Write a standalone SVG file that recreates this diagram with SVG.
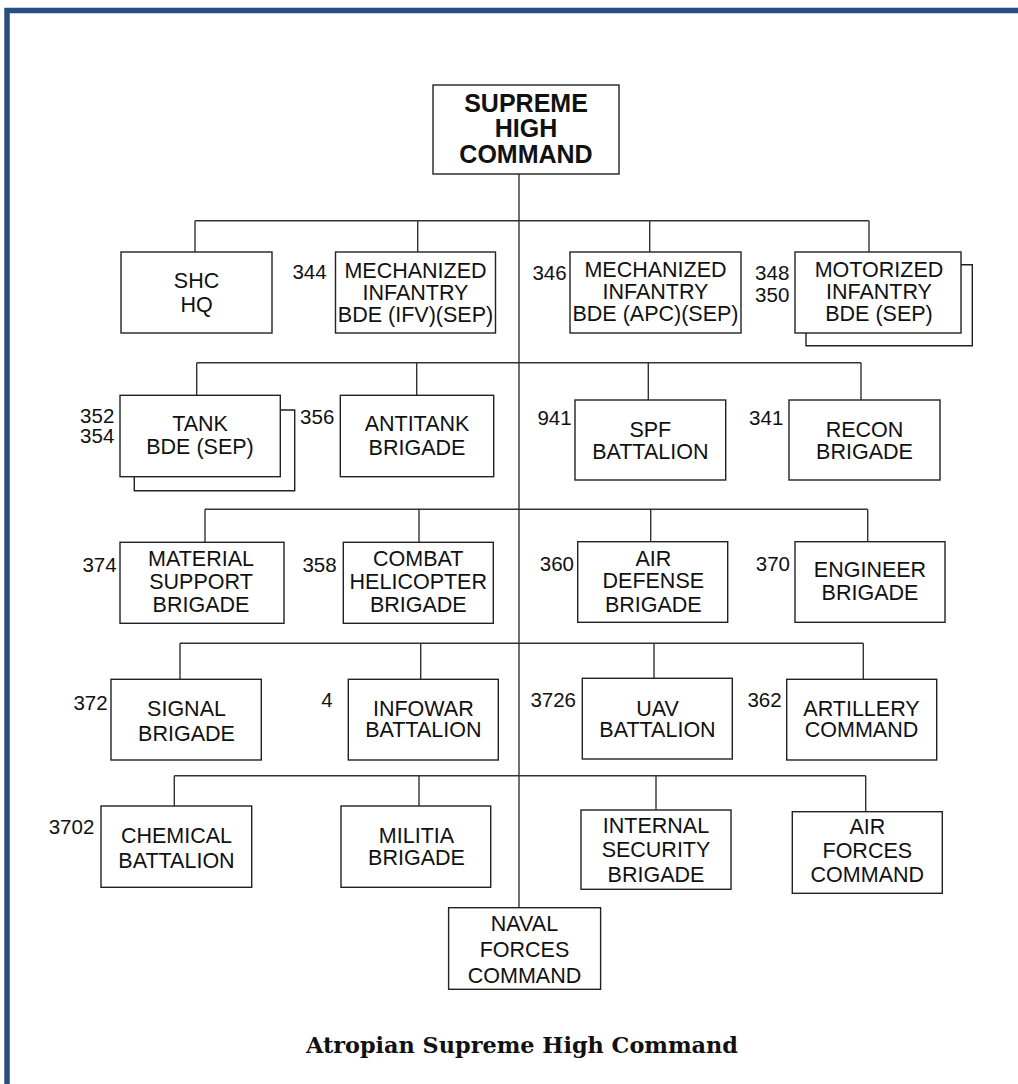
<svg xmlns="http://www.w3.org/2000/svg" width="1018" height="1084" viewBox="0 0 1018 1084">
<style>
.box{fill:#fff;stroke:#222;stroke-width:1.4}
.sh{fill:none;stroke:#222;stroke-width:1.4}
.conn{fill:none;stroke:#333;stroke-width:1.4}
text{font-family:"Liberation Sans",Arial,sans-serif;fill:#111}
.t{font-size:21.5px;text-anchor:middle}
.b{font-size:25px;font-weight:bold;text-anchor:middle}
.n{font-size:20.5px;text-anchor:end}
.title{font-family:"DejaVu Serif","Liberation Serif",serif;font-weight:bold;font-size:22px;text-anchor:middle}
</style>
<rect x="0" y="0" width="1018" height="1084" fill="#fff"/>
<rect x="7" y="10.5" width="1100" height="1200" fill="none" stroke="#2b4e80" stroke-width="5.5"/>

<g id="connectors">
<path class="conn" d="M519 174V907.7"/>
<path class="conn" d="M195 220.7H869M195 220.7V252M417.7 220.7V252M649.7 220.7V252M869 220.7V252"/>
<path class="conn" d="M196.7 362.7H861M196.7 362.7V395.3M416.7 362.7V395.3M648.3 362.7V400M861 362.7V400"/>
<path class="conn" d="M205 509.3H867.7M205 509.3V542.3M419 509.3V542.3M650.7 509.3V541.7M867.7 509.3V541.7"/>
<path class="conn" d="M180 643.3H863.3M180 643.3V679.3M420.7 643.3V679.3M654 643.3V678.3M863.3 643.3V679.3"/>
<path class="conn" d="M174.3 775.7H865.7M174.3 775.7V806M419 775.7V806M656 775.7V810M865.7 775.7V811.7"/>
</g>

<g id="shc-top">
<rect class="box" x="433" y="85" width="186" height="89"/>
<text class="b" x="526" y="111.7">SUPREME</text>
<text class="b" x="526" y="137">HIGH</text>
<text class="b" x="526" y="162.7">COMMAND</text>
</g>

<g id="shc-hq">
<rect class="box" x="121" y="252" width="151" height="81"/>
<text class="t" x="196.5" y="288.3">SHC</text>
<text class="t" x="196.5" y="312.3">HQ</text>
</g>
<g id="mech-344">
<rect class="box" x="335.5" y="252" width="160" height="81"/>
<text class="n" x="326.7" y="279">344</text>
<text class="t" x="415.5" y="278.3">MECHANIZED</text>
<text class="t" x="415.5" y="300">INFANTRY</text>
<text class="t" x="415.5" y="321.5">BDE (IFV)(SEP)</text>
</g>
<g id="mech-346">
<rect class="box" x="570" y="252" width="171" height="81"/>
<text class="n" x="566.7" y="280">346</text>
<text class="t" x="655.5" y="277">MECHANIZED</text>
<text class="t" x="655.5" y="299">INFANTRY</text>
<text class="t" x="655.5" y="321">BDE (APC)(SEP)</text>
</g>
<g id="motor-348-350">
<polyline class="sh" points="961,264.7 972.3,264.7 972.3,345.7 806,345.7 806,333"/>
<rect class="box" x="795" y="252" width="166" height="81"/>
<text class="n" x="789.3" y="280">348</text>
<text class="n" x="789.3" y="301.7">350</text>
<text class="t" x="879" y="277">MOTORIZED</text>
<text class="t" x="879" y="299">INFANTRY</text>
<text class="t" x="879" y="321">BDE (SEP)</text>
</g>

<g id="tank-352-354">
<polyline class="sh" points="280.3,410 294.7,410 294.7,490.7 134.3,490.7 134.3,476.7"/>
<rect class="box" x="120" y="395.3" width="160.3" height="81.4"/>
<text class="n" x="114.3" y="423.3">352</text>
<text class="n" x="114.3" y="443">354</text>
<text class="t" x="200" y="431">TANK</text>
<text class="t" x="200" y="454">BDE (SEP)</text>
</g>
<g id="antitank-356">
<rect class="box" x="340.3" y="395.3" width="153.4" height="81.4"/>
<text class="n" x="334.3" y="424">356</text>
<text class="t" x="417" y="431">ANTITANK</text>
<text class="t" x="417" y="455">BRIGADE</text>
</g>
<g id="spf-941">
<rect class="box" x="575" y="400" width="150.7" height="80"/>
<text class="n" x="571.7" y="425">941</text>
<text class="t" x="650.3" y="437">SPF</text>
<text class="t" x="650.3" y="458.5">BATTALION</text>
</g>
<g id="recon-341">
<rect class="box" x="789" y="400" width="151" height="80"/>
<text class="n" x="783.3" y="425">341</text>
<text class="t" x="864.5" y="437">RECON</text>
<text class="t" x="864.5" y="458.5">BRIGADE</text>
</g>

<g id="material-374">
<rect class="box" x="120" y="542.3" width="164" height="81"/>
<text class="n" x="116.7" y="572.3">374</text>
<text class="t" x="201" y="565.7">MATERIAL</text>
<text class="t" x="201" y="589">SUPPORT</text>
<text class="t" x="201" y="612.3">BRIGADE</text>
</g>
<g id="combat-heli-358">
<rect class="box" x="343.3" y="542.3" width="150" height="81"/>
<text class="n" x="336.7" y="572">358</text>
<text class="t" x="418.3" y="565.7">COMBAT</text>
<text class="t" x="418.3" y="589">HELICOPTER</text>
<text class="t" x="418.3" y="612.3">BRIGADE</text>
</g>
<g id="airdef-360">
<rect class="box" x="577.7" y="541.7" width="150" height="80.6"/>
<text class="n" x="574" y="571">360</text>
<text class="t" x="653.3" y="565.7">AIR</text>
<text class="t" x="653.3" y="588.3">DEFENSE</text>
<text class="t" x="653.3" y="611.7">BRIGADE</text>
</g>
<g id="engineer-370">
<rect class="box" x="795" y="541.7" width="150" height="80.6"/>
<text class="n" x="790" y="570.7">370</text>
<text class="t" x="870" y="577.3">ENGINEER</text>
<text class="t" x="870" y="600">BRIGADE</text>
</g>

<g id="signal-372">
<rect class="box" x="111" y="679.3" width="150.3" height="80.7"/>
<text class="n" x="107.7" y="710">372</text>
<text class="t" x="186.5" y="716">SIGNAL</text>
<text class="t" x="186.5" y="741">BRIGADE</text>
</g>
<g id="infowar-4">
<rect class="box" x="348.3" y="679.3" width="150" height="80.7"/>
<text class="n" x="332.7" y="706.7">4</text>
<text class="t" x="423.3" y="715.5">INFOWAR</text>
<text class="t" x="423.3" y="737">BATTALION</text>
</g>
<g id="uav-3726">
<rect class="box" x="582.3" y="678.3" width="150" height="80.7"/>
<text class="n" x="576" y="706.7">3726</text>
<text class="t" x="657.5" y="715.5">UAV</text>
<text class="t" x="657.5" y="737">BATTALION</text>
</g>
<g id="artillery-362">
<rect class="box" x="786.7" y="679.3" width="150" height="80.7"/>
<text class="n" x="781.7" y="706.7">362</text>
<text class="t" x="861.5" y="715.5">ARTILLERY</text>
<text class="t" x="861.5" y="737">COMMAND</text>
</g>

<g id="chemical-3702">
<rect class="box" x="101" y="806" width="150.7" height="81.3"/>
<text class="n" x="94.3" y="834.3">3702</text>
<text class="t" x="176.5" y="843.3">CHEMICAL</text>
<text class="t" x="176.5" y="867.7">BATTALION</text>
</g>
<g id="militia">
<rect class="box" x="341" y="806" width="149.7" height="81.3"/>
<text class="t" x="416.5" y="842.7">MILITIA</text>
<text class="t" x="416.5" y="865">BRIGADE</text>
</g>
<g id="internal-security">
<rect class="box" x="581" y="810" width="150" height="79.3"/>
<text class="t" x="656" y="833.3">INTERNAL</text>
<text class="t" x="656" y="857.3">SECURITY</text>
<text class="t" x="656" y="881.7">BRIGADE</text>
</g>
<g id="air-forces">
<rect class="box" x="792.3" y="811.7" width="150" height="81.6"/>
<text class="t" x="867.3" y="834.3">AIR</text>
<text class="t" x="867.3" y="858.3">FORCES</text>
<text class="t" x="867.3" y="882.3">COMMAND</text>
</g>
<g id="naval-forces">
<rect class="box" x="448.6" y="907.7" width="152" height="81.6"/>
<text class="t" x="524.5" y="931">NAVAL</text>
<text class="t" x="524.5" y="957.3">FORCES</text>
<text class="t" x="524.5" y="982.7">COMMAND</text>
</g>

<text class="title" x="522" y="1053.3" textLength="432" lengthAdjust="spacingAndGlyphs">Atropian Supreme High Command</text>
</svg>
